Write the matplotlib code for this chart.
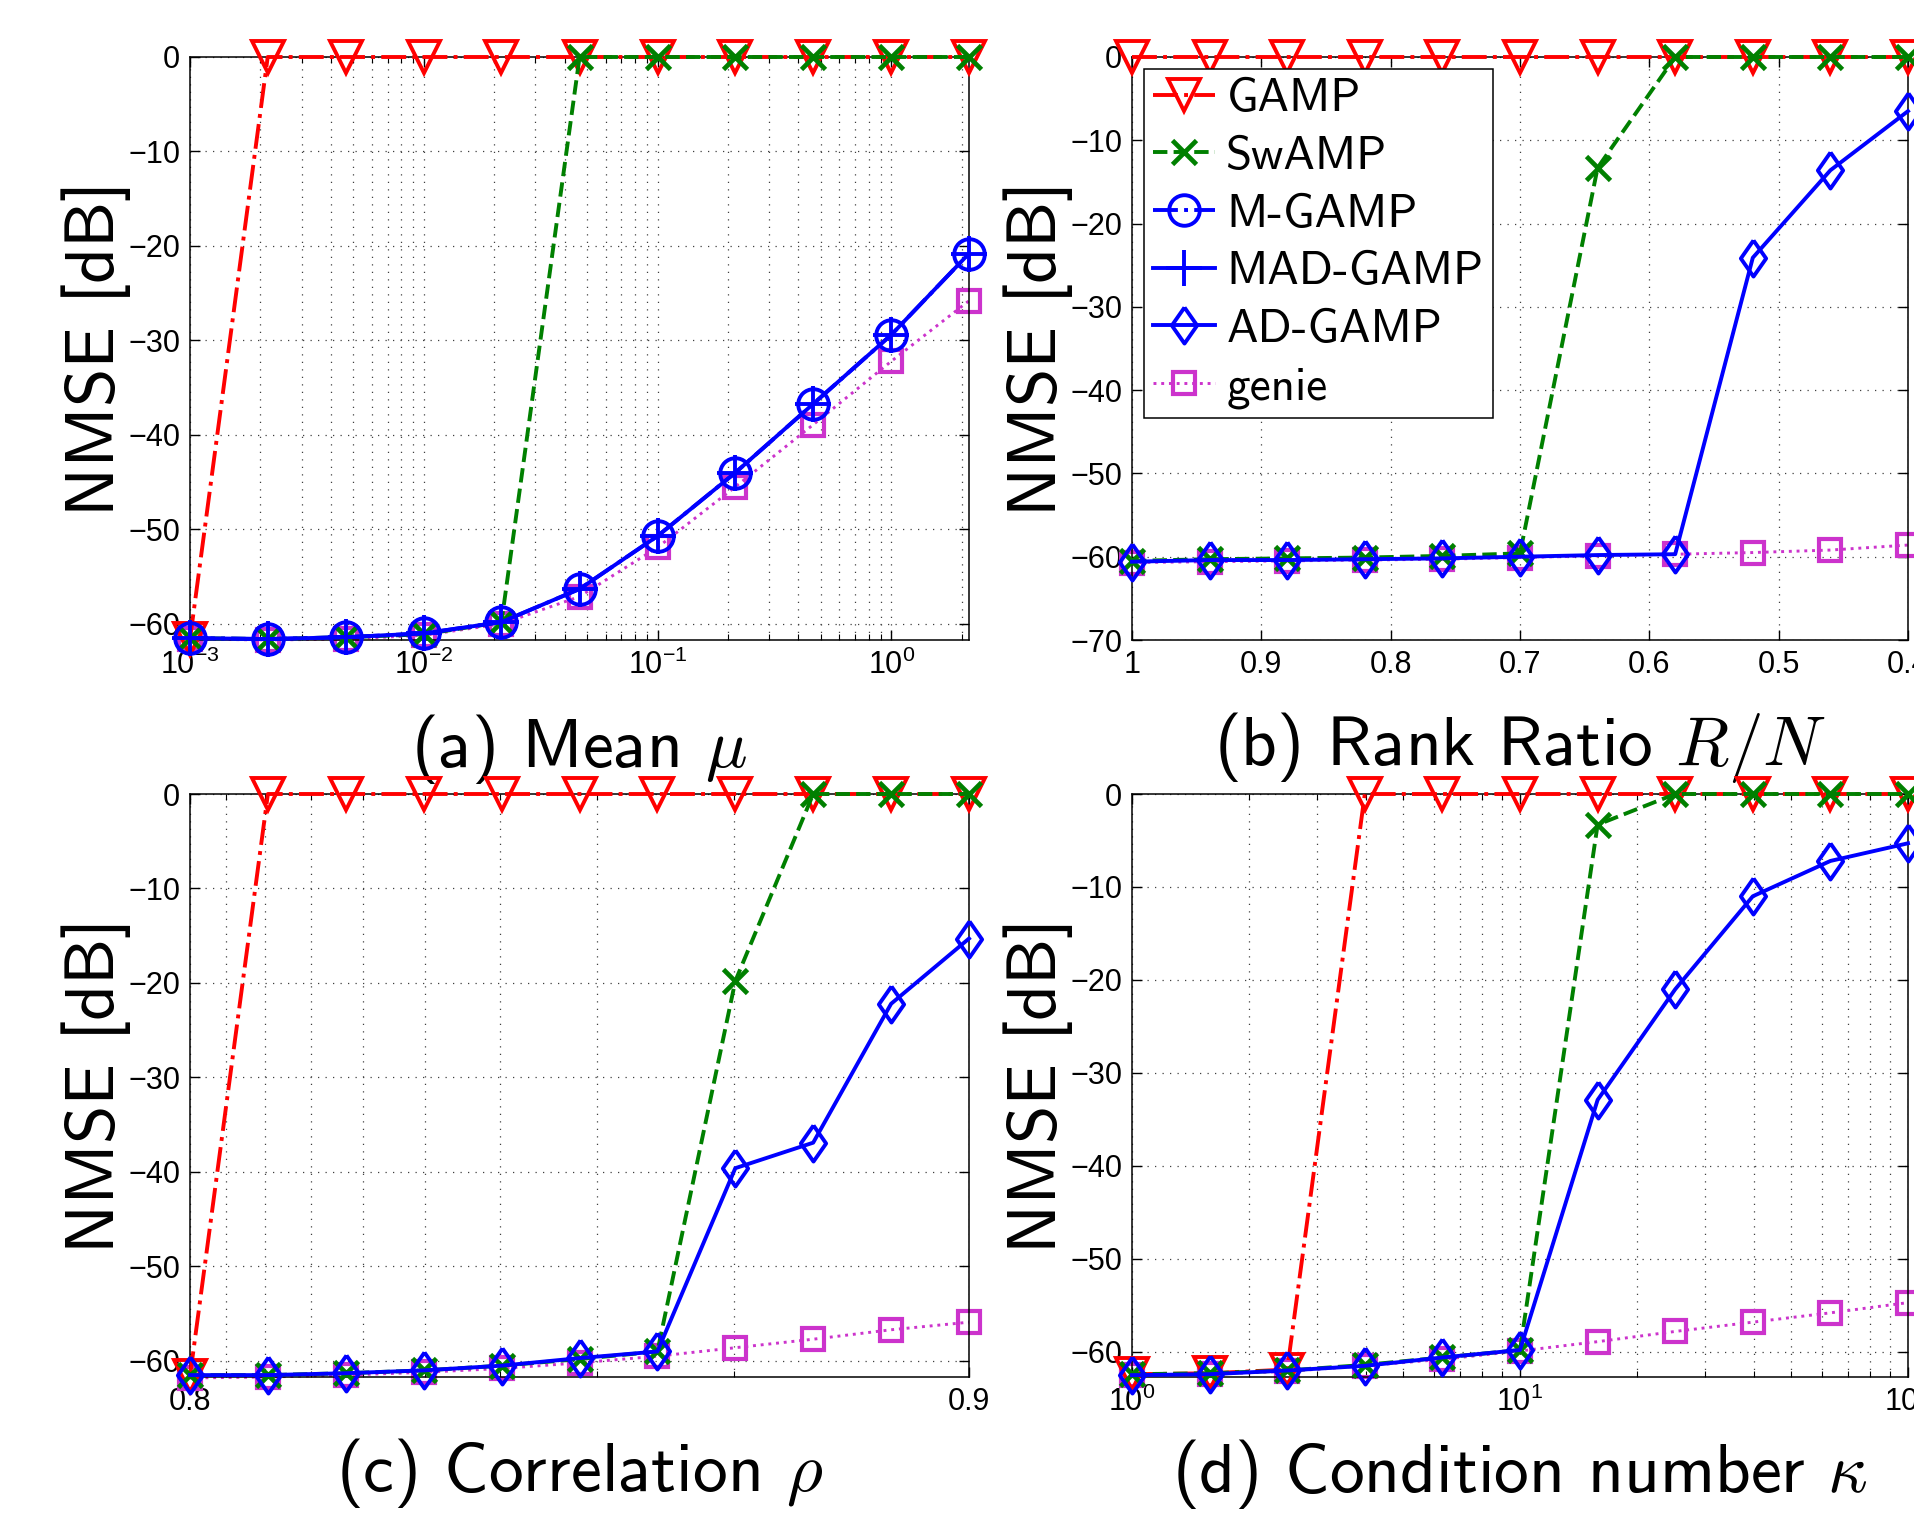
import numpy as np
import matplotlib
matplotlib.use('Agg')
import matplotlib.pyplot as plt
from matplotlib.lines import Line2D
from matplotlib.ticker import LogLocator, LogFormatterMathtext, FixedLocator, FixedFormatter, NullFormatter

plt.rcParams['font.family'] = ['Liberation Sans', 'DejaVu Sans']
plt.rcParams['mathtext.fontset'] = 'cm'

# ---------------- data ----------------
# (a) mean mu
mu = [1e-3, 2.15e-3, 4.64e-3, 1e-2, 2.15e-2, 4.64e-2, 0.1, 0.215, 0.464, 1.0, 2.15]
a_gamp = [-61.6, 0, 0, 0, 0, 0, 0, 0, 0, 0, 0]
a_swamp = [-61.5, -61.6, -61.4, -61.1, -59.8, 0, 0, 0, 0, 0, 0]
a_mgamp = [-61.5, -61.6, -61.4, -61.0, -59.8, -56.3, -50.7, -44.0, -36.7, -29.4, -20.8]
a_madgamp = [-61.5, -61.6, -61.4, -61.0, -59.8, -56.3, -50.7, -44.0, -36.7, -29.4, -20.8]
a_genie = [-61.6, -61.7, -61.6, -61.2, -60.0, -57.1, -51.9, -45.5, -38.9, -32.2, -25.8]

# (b) rank ratio R/N
rank_ratio = [1.0, 0.94, 0.88, 0.82, 0.76, 0.70, 0.64, 0.58, 0.52, 0.46, 0.40]
b_gamp = [0, 0, 0, 0, 0, 0, 0, 0, 0, 0, 0]
b_swamp = [-60.5, -60.3, -60.2, -60.1, -59.9, -59.6, -13.3, 0, 0, 0, 0]
b_adgamp = [-60.6, -60.4, -60.4, -60.3, -60.2, -60.0, -59.8, -59.7, -24.1, -13.6, -6.5]
b_genie = [-60.7, -60.6, -60.5, -60.4, -60.3, -60.1, -59.9, -59.7, -59.5, -59.2, -58.6]

# (c) correlation rho
rho = [0.80, 0.81, 0.82, 0.83, 0.84, 0.85, 0.86, 0.87, 0.88, 0.89, 0.90]
c_gamp = [-61.6, 0, 0, 0, 0, 0, 0, 0, 0, 0, 0]
c_swamp = [-61.5, -61.5, -61.3, -61.0, -60.5, -59.8, -59.0, -19.8, 0, 0, 0]
c_adgamp = [-61.5, -61.5, -61.3, -61.0, -60.5, -59.7, -59.0, -39.6, -36.9, -22.2, -15.3]
c_genie = [-61.8, -61.7, -61.5, -61.2, -60.8, -60.2, -59.5, -58.6, -57.7, -56.7, -55.9]

# (d) condition number kappa
kappa = [1.0, 1.585, 2.512, 3.981, 6.31, 10.0, 15.85, 25.12, 39.81, 63.1, 100.0]
d_gamp = [-62.4, -62.3, -61.9, 0, 0, 0, 0, 0, 0, 0, 0]
d_swamp = [-62.4, -62.3, -62.0, -61.4, -60.6, -59.8, -3.3, 0, 0, 0, 0]
d_adgamp = [-62.5, -62.4, -62.0, -61.5, -60.6, -59.8, -32.9, -21.0, -11.0, -7.2, -5.3]
d_genie = [-62.5, -62.4, -62.1, -61.5, -60.8, -59.9, -58.9, -57.8, -56.8, -55.8, -54.7]

names = ['GAMP', 'SwAMP', 'M-GAMP', 'MAD-GAMP', 'AD-GAMP', 'genie']

# ---------------- styles ----------------
LW = 2.8
diamond = [(0, 1), (0.7, 0), (0, -1), (-0.7, 0), (0, 1)]
sty = {
    'GAMP': dict(color='red', ls='-.', marker='v', ms=23, mew=2.8, mfc='none', lw=LW, zorder=3),
    'SwAMP': dict(color='green', ls='--', marker='x', ms=17, mew=3.4, lw=LW, zorder=4),
    'M-GAMP': dict(color='blue', ls='-.', marker='o', ms=22, mew=2.8, mfc='none', lw=LW, zorder=5),
    'MAD-GAMP': dict(color='blue', ls='-', marker='+', ms=26, mew=2.8, lw=LW, zorder=6),
    'AD-GAMP': dict(color='blue', ls='-', marker=diamond, ms=26, mew=2.8, mfc='none', lw=LW, zorder=6),
    'genie': dict(color='#cc33cc', ls=':', marker='s', ms=16.5, mew=3.0, mfc='none', lw=2.1, zorder=2),
}

gridstyle = dict(linestyle=(0, (1, 5)), color='0.25', linewidth=0.9)
labfont = dict(family='cmss10', size=50)


def style_axes(ax, minor_grid=False):
    ax.tick_params(which='both', direction='in', top=True, right=True,
                   labelsize=22, pad=7)
    ax.tick_params(which='major', length=7, width=1)
    ax.tick_params(which='minor', length=4, width=0.8)
    ax.grid(True, which='major', **gridstyle)
    if minor_grid:
        ax.grid(True, which='minor', **gridstyle)
    for s in ax.spines.values():
        s.set_linewidth(1.1)
    ax.set_ylabel('NMSE [dB]', fontdict=labfont, labelpad=-2)


def draw(ax, x, series):
    for name, y in series:
        ax.plot(x, y, clip_on=False, **sty[name])


W, H = 1915, 1515
fig = plt.figure(figsize=(W / 100, H / 100), dpi=100)

def box(l, t, r, b):
    return [l / W, 1 - b / H, (r - l) / W, (b - t) / H]

ax_a = fig.add_axes(box(190, 57, 969, 640))
ax_b = fig.add_axes(box(1132, 57, 1908, 640))
ax_c = fig.add_axes(box(190, 794, 969, 1377))
ax_d = fig.add_axes(box(1132, 794, 1908, 1377))

# (a)
draw(ax_a, mu, [('genie', a_genie), ('GAMP', a_gamp), ('SwAMP', a_swamp),
                ('M-GAMP', a_mgamp), ('MAD-GAMP', a_madgamp)])
ax_a.set_xscale('log')
ax_a.set_xlim(mu[0], mu[-1])
ax_a.set_ylim(-61.7, 0)
ax_a.set_yticks(np.arange(-60, 1, 10))
ax_a.xaxis.set_major_locator(LogLocator(base=10))
ax_a.xaxis.set_major_formatter(LogFormatterMathtext())
ax_a.xaxis.set_minor_locator(LogLocator(base=10, subs=np.arange(2, 10)))
ax_a.xaxis.set_minor_formatter(NullFormatter())
style_axes(ax_a, minor_grid=True)
ax_a.set_xlabel(r'(a) Mean $\mu$', fontdict=labfont, labelpad=22)

# (b)
draw(ax_b, rank_ratio, [('genie', b_genie), ('GAMP', b_gamp), ('SwAMP', b_swamp),
                        ('AD-GAMP', b_adgamp)])
ax_b.set_xlim(1.0, 0.4)
ax_b.set_ylim(-70, 0)
ax_b.set_yticks(np.arange(-70, 1, 10))
ax_b.set_xticks([1.0, 0.9, 0.8, 0.7, 0.6, 0.5, 0.4])
ax_b.set_xticklabels(['1', '0.9', '0.8', '0.7', '0.6', '0.5', '0.4'])
style_axes(ax_b)
ax_b.set_xlabel(r'(b) Rank Ratio $R/N$', fontdict=labfont, labelpad=22)

handles = [Line2D([], [], **{k: v for k, v in sty[n].items() if k != 'zorder'}) for n in names]
leg = ax_b.legend(handles, names, loc='upper left', numpoints=1,
                  prop=dict(family='cmss10', size=34), fancybox=False,
                  edgecolor='black', framealpha=1, borderaxespad=0.25,
                  handlelength=1.3, handletextpad=0.25, labelspacing=0.33,
                  borderpad=0.2)
leg.get_frame().set_linewidth(1.1)

# (c)
draw(ax_c, rho, [('genie', c_genie), ('GAMP', c_gamp), ('SwAMP', c_swamp),
                 ('AD-GAMP', c_adgamp)])
ax_c.set_xlim(0.8, 0.9)
ax_c.set_ylim(-61.7, 0)
ax_c.set_yticks(np.arange(-60, 1, 10))
ax_c.xaxis.set_major_locator(FixedLocator([0.8, 0.9]))
ax_c.xaxis.set_major_formatter(FixedFormatter(['0.8', '0.9']))
# mirrored log-style grid of the original
ax_c.xaxis.set_minor_locator(FixedLocator(0.9 - 0.1 * np.log10(np.arange(2, 10))))
style_axes(ax_c, minor_grid=True)
ax_c.set_xlabel(r'(c) Correlation $\rho$', fontdict=labfont, labelpad=14)

# (d)
draw(ax_d, kappa, [('genie', d_genie), ('GAMP', d_gamp), ('SwAMP', d_swamp),
                   ('AD-GAMP', d_adgamp)])
ax_d.set_xscale('log')
ax_d.set_xlim(1, 100)
ax_d.set_ylim(-62.7, 0)
ax_d.set_yticks(np.arange(-60, 1, 10))
ax_d.xaxis.set_major_formatter(LogFormatterMathtext())
ax_d.xaxis.set_minor_locator(LogLocator(base=10, subs=np.arange(2, 10)))
ax_d.xaxis.set_minor_formatter(NullFormatter())
style_axes(ax_d, minor_grid=True)
ax_d.set_xlabel(r'(d) Condition number $\kappa$', fontdict=labfont, labelpad=14)

fig.savefig('out.png', dpi=100)
